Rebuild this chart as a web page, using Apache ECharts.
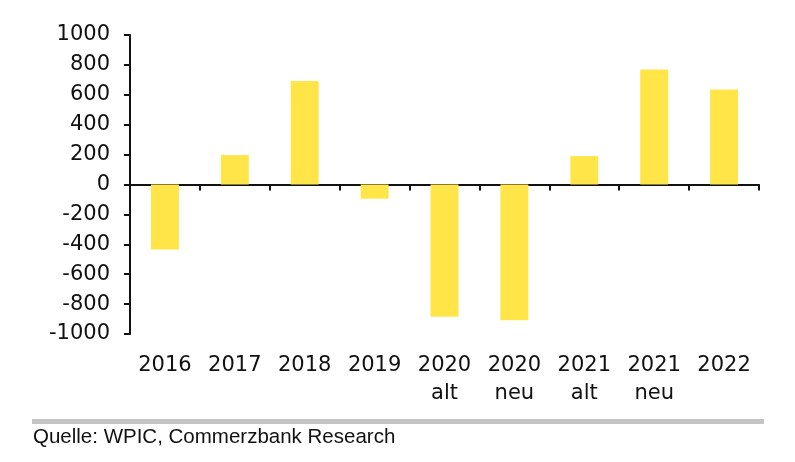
<!DOCTYPE html>
<html><head><meta charset="utf-8">
<script src="https://cdn.jsdelivr.net/npm/echarts@6/dist/echarts.min.js"></script>
<style>html,body{margin:0;padding:0;background:#fff}#c{width:795px;height:462px}</style>
</head><body><div id="c"></div>
<script>
const categories = ['2016','2017','2018','2019','2020\nalt','2020\nneu','2021\nalt','2021\nneu','2022'];
const values = [-435, 197, 693, -95, -885, -908, 190, 770, 635];
const yTicks = {min: -1000, max: 1000, interval: 200};
const source = 'Quelle: WPIC, Commerzbank Research';

const chart = echarts.init(document.getElementById('c'), null, {renderer: 'canvas'});
const labelFont = {fontFamily: 'DejaVu Sans', fontSize: 21, color: '#111'};
chart.setOption({
  animation: false,
  grid: {left: 130, right: 36, top: 35, bottom: 128},
  xAxis: [{
    type: 'category', data: categories, position: 'bottom',
    axisLine: {onZero: true, lineStyle: {color: '#111', width: 2}},
    axisTick: {show: true, inside: false, length: 6, lineStyle: {color: '#111', width: 2}},
    axisLabel: {show: false}
  }, {
    type: 'category', data: categories, position: 'bottom',
    axisLine: {show: false, onZero: false}, axisTick: {show: false},
    axisLabel: Object.assign({margin: 18, lineHeight: 28}, labelFont)
  }],
  yAxis: {
    type: 'value', min: yTicks.min, max: yTicks.max, interval: yTicks.interval,
    splitLine: {show: false},
    axisLine: {show: true, lineStyle: {color: '#111', width: 2}},
    axisTick: {show: true, length: 6, lineStyle: {color: '#111', width: 2}},
    axisLabel: Object.assign({margin: 20, formatter: v => String(v)}, labelFont)
  },
  series: [{
    type: 'bar', data: values, xAxisIndex: 0,
    barCategoryGap: '60%',
    itemStyle: {color: '#FFE548'}
  }],
  graphic: [
    {type: 'rect', shape: {x: 32, y: 419, width: 732, height: 5}, style: {fill: '#C4C4C4'}},
    {type: 'text', left: 33, top: 427, style: {text: source, font: '20.5px "Liberation Sans"', fill: '#111'}}
  ]
});
</script></body></html>
